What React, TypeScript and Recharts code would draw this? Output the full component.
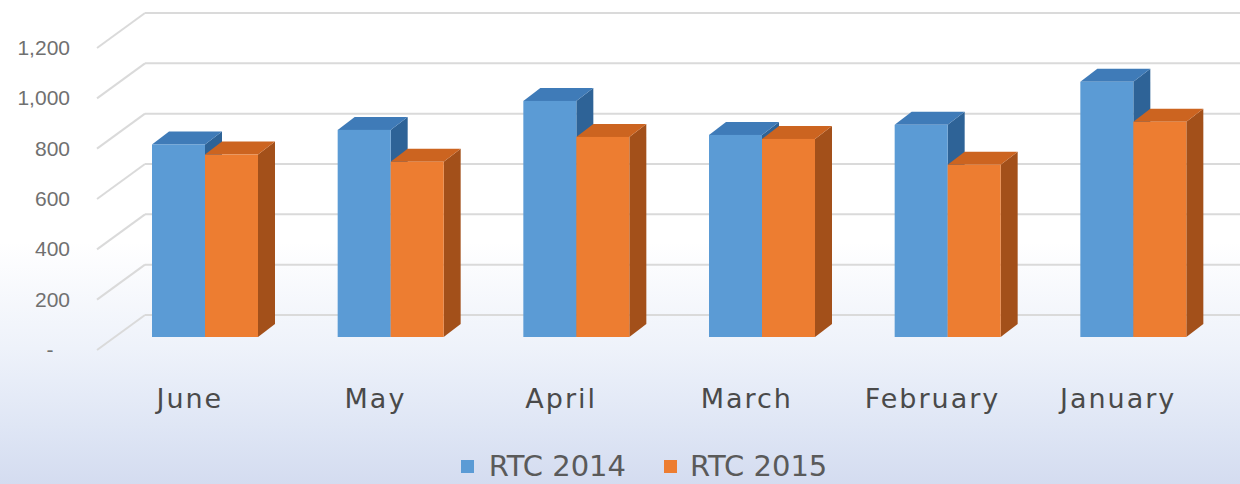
import { Bar, BarChart, CartesianGrid, XAxis, YAxis } from "recharts";

const months = ["June", "May", "April", "March", "February", "January"];
const rtc2014 = [765, 823, 938, 803, 843, 1014];
const rtc2015 = [725, 696, 795, 787, 684, 855];
const yTicks = [0, 200, 400, 600, 800, 1000, 1200];

const data = months.map((name, i) => ({
  name,
  rtc2014: rtc2014[i],
  rtc2015: rtc2015[i],
}));

// fake 3D: depth of the walls and of the bars
const WALL_DX = 48;
const WALL_DY = 35;
const BAR_SHIFT_X = 15;
const BAR_SHIFT_Y = 13;
const BAR_DX = 17;
const BAR_DY = 13;

const blue = { front: "#5b9bd5", top: "#3f7bb8", side: "#2e6397" };
const orange = { front: "#ed7d31", top: "#cc6420", side: "#a3501a" };

function Bar3D(props: any, c: { front: string; top: string; side: string }) {
  const { x, y, width, height } = props;
  if (height == null || height <= 0) return <g />;
  const X = x + BAR_SHIFT_X;
  const Y = y - BAR_SHIFT_Y;
  const w = width;
  const h = height;
  return (
    <g>
      <polygon
        points={`${X + w},${Y} ${X + w + BAR_DX},${Y - BAR_DY} ${X + w + BAR_DX},${Y + h - BAR_DY} ${X + w},${Y + h}`}
        fill={c.side}
      />
      <polygon
        points={`${X},${Y} ${X + BAR_DX},${Y - BAR_DY} ${X + w + BAR_DX},${Y - BAR_DY} ${X + w},${Y}`}
        fill={c.top}
      />
      <rect x={X} y={Y} width={w} height={h} fill={c.front} />
    </g>
  );
}

function GridLine(props: any) {
  const { x1, y1, index } = props;
  const bx = x1 + WALL_DX;
  const by = y1 - WALL_DY;
  return (
    <g key={`grid-${index}-${y1}`}>
      <line x1={x1} y1={y1} x2={bx} y2={by} stroke="#dadada" strokeWidth={2} />
      <line x1={bx} y1={by} x2={1240} y2={by} stroke="#dadada" strokeWidth={2} />
    </g>
  );
}

function YTick(props: any) {
  const { y, payload } = props;
  const v = payload.value as number;
  const zero = v === 0;
  return (
    <text
      x={zero ? 50 : 70}
      y={y}
      dy={7}
      textAnchor={zero ? "middle" : "end"}
      fontFamily="Liberation Sans, Arial, sans-serif"
      fontSize={21}
      fill="#707070"
    >
      {zero ? "-" : v.toLocaleString("en-US")}
    </text>
  );
}

function XTick(props: any) {
  const { x, payload } = props;
  return (
    <text
      x={x}
      y={408}
      textAnchor="middle"
      fontFamily="DejaVu Sans, sans-serif"
      fontSize={27}
      letterSpacing={2}
      fill="#4a4a4a"
    >
      {payload.value}
    </text>
  );
}

export default function App() {
  return (
    <div
      style={{
        position: "absolute",
        left: 0,
        top: 0,
        width: 1240,
        height: 484,
        background:
          "linear-gradient(to bottom, #ffffff 0%, #ffffff 50%, #eef2fa 72%, #dfe6f5 88%, #d4dcf0 100%)",
      }}
    >
      <BarChart
        width={1240}
        height={484}
        data={data}
        margin={{ top: 48, right: 29, left: 0, bottom: 0 }}
        barGap={0}
        barSize={53}
      >
        <CartesianGrid vertical={false} horizontal={GridLine} />
        <XAxis
          dataKey="name"
          height={134}
          axisLine={false}
          tickLine={false}
          tick={XTick}
          interval={0}
        />
        <YAxis
          width={97}
          domain={[0, 1200]}
          ticks={yTicks}
          axisLine={false}
          tickLine={false}
          tick={YTick}
        />
        <Bar
          dataKey="rtc2014"
          name="RTC 2014"
          isAnimationActive={false}
          shape={(p: any) => Bar3D(p, blue)}
        />
        <Bar
          dataKey="rtc2015"
          name="RTC 2015"
          isAnimationActive={false}
          shape={(p: any) => Bar3D(p, orange)}
        />
      </BarChart>
      <div
        style={{
          position: "absolute",
          left: 0,
          top: 448,
          width: 1240,
          display: "flex",
          justifyContent: "center",
          gap: 38,
          fontFamily: "DejaVu Sans, sans-serif",
          fontSize: 29,
          color: "#5a5a5a",
          lineHeight: "36px",
        }}
      >
        <span style={{ display: "flex", alignItems: "center", marginLeft: 48 }}>
          <span style={{ width: 13, height: 13, background: blue.front, marginRight: 15 }} />
          RTC 2014
        </span>
        <span style={{ display: "flex", alignItems: "center" }}>
          <span style={{ width: 13, height: 13, background: orange.front, marginRight: 13 }} />
          RTC 2015
        </span>
      </div>
    </div>
  );
}
